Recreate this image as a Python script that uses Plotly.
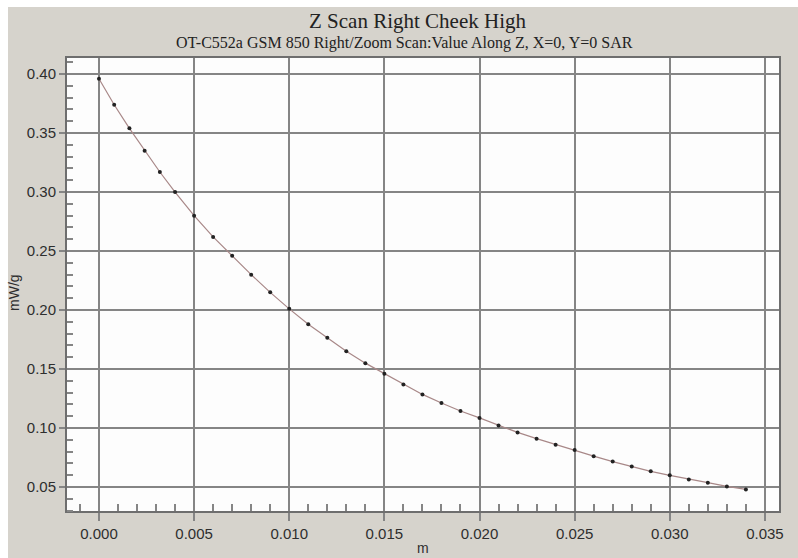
import plotly.graph_objects as go

# Data
z_m = [0.0, 0.0008, 0.0016, 0.0024, 0.0032, 0.004, 0.005, 0.006, 0.007, 0.008,
       0.009, 0.010, 0.011, 0.012, 0.013, 0.014, 0.015, 0.016, 0.017, 0.018,
       0.019, 0.020, 0.021, 0.022, 0.023, 0.024, 0.025, 0.026, 0.027, 0.028,
       0.029, 0.030, 0.031, 0.032, 0.033, 0.034]
sar_mwg = [0.396, 0.374, 0.354, 0.335, 0.317, 0.300, 0.280, 0.262, 0.246, 0.230,
           0.215, 0.201, 0.188, 0.1765, 0.165, 0.155, 0.146, 0.137, 0.1285, 0.1212,
           0.1145, 0.1086, 0.1022, 0.0963, 0.0910, 0.0859, 0.0813, 0.0762, 0.0716, 0.0674,
           0.0633, 0.0599, 0.0565, 0.0537, 0.0505, 0.0480]

x_ticks = [0.000, 0.005, 0.010, 0.015, 0.020, 0.025, 0.030, 0.035]
x_tick_labels = ["0.000", "0.005", "0.010", "0.015", "0.020", "0.025", "0.030", "0.035"]
y_ticks = [0.05, 0.10, 0.15, 0.20, 0.25, 0.30, 0.35, 0.40]
y_tick_labels = ["0.05", "0.10", "0.15", "0.20", "0.25", "0.30", "0.35", "0.40"]

title_text = "Z Scan Right Cheek High"
subtitle_text = "OT-C552a GSM 850 Right/Zoom Scan:Value Along Z, X=0, Y=0 SAR"

W, H = 798, 558
ML, MR, MT, MB = 67, 19, 58, 47
PW, PH = W - ML - MR, H - MT - MB

def px_x(px):
    return (px - ML) / PW

def px_y(py):
    return (H - MB - py) / PH

GRID = "#858585"
TXT = "#2e2e2e"
BG = "#d6d3cc"

fig = go.Figure()
fig.add_trace(go.Scatter(
    x=z_m, y=sar_mwg, mode="lines+markers",
    line=dict(color="#a88888", width=1.2),
    marker=dict(color="#222222", size=4),
    showlegend=False, hoverinfo="x+y"))

fig.update_layout(
    width=W, height=H,
    margin=dict(l=ML, r=MR, t=MT, b=MB, pad=0),
    paper_bgcolor=BG, plot_bgcolor="#fdfdfd",
    font=dict(family="Liberation Sans, Arial, sans-serif", size=15, color=TXT),
    xaxis=dict(range=[-0.00168, 0.03574], tickvals=x_ticks, ticktext=x_tick_labels,
               showgrid=True, gridcolor=GRID, gridwidth=2, zeroline=False,
               showline=True, linecolor="#6e6e6e", linewidth=2, mirror=True,
               ticks="outside", ticklen=8, tickwidth=2, tickcolor=GRID,
               tickfont=dict(size=15, color=TXT),
               minor=dict(dtick=0.001, tick0=0, ticks="inside", ticklen=7,
                          tickwidth=1.5, tickcolor=GRID, showgrid=False)),
    yaxis=dict(range=[0.0297, 0.4136], tickvals=y_ticks, ticktext=y_tick_labels,
               showgrid=True, gridcolor=GRID, gridwidth=2, zeroline=False,
               showline=True, linecolor="#6e6e6e", linewidth=2, mirror=True,
               ticks="outside", ticklen=6, tickwidth=2, tickcolor=GRID,
               tickfont=dict(size=15, color=TXT),
               minor=dict(dtick=0.01, tick0=0, ticks="inside", ticklen=6,
                          tickwidth=1.5, tickcolor=GRID, showgrid=False)),
    shapes=[
        dict(type="rect", xref="paper", yref="paper", x0=px_x(0), x1=px_x(W),
             y0=px_y(7), y1=px_y(0), fillcolor="#ffffff", line=dict(width=0)),
        dict(type="rect", xref="paper", yref="paper", x0=px_x(0), x1=px_x(8),
             y0=px_y(H), y1=px_y(0), fillcolor="#ffffff", line=dict(width=0)),
    ],
    annotations=[
        dict(text=title_text, x=px_x(417), y=px_y(21), xref="paper", yref="paper",
             showarrow=False, xanchor="center", yanchor="middle",
             font=dict(family="Liberation Serif, Times New Roman, serif", size=21, color="#222222")),
        dict(text=subtitle_text, x=px_x(404), y=px_y(43), xref="paper", yref="paper",
             showarrow=False, xanchor="center", yanchor="middle",
             font=dict(family="Liberation Serif, Times New Roman, serif", size=16, color="#222222")),
        dict(text="m", x=0.5, y=px_y(548), xref="paper", yref="paper",
             showarrow=False, xanchor="center", yanchor="middle",
             font=dict(size=14, color=TXT)),
        dict(text="mW/g", x=px_x(14), y=px_y(293), xref="paper", yref="paper",
             showarrow=False, xanchor="center", yanchor="middle", textangle=-90,
             font=dict(size=14, color=TXT)),
    ],
)

fig.write_html("out.html")
